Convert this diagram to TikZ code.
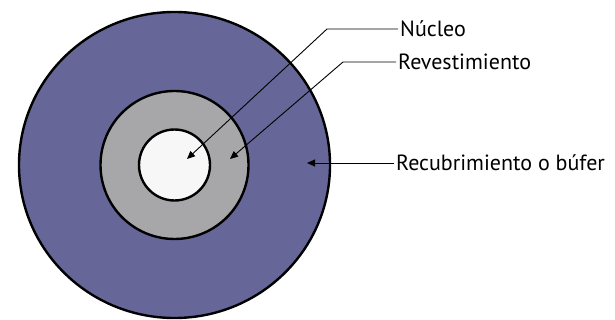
\documentclass[tikz,border=0pt]{standalone}
\usepackage{fontspec}
\setmainfont{PT Sans}
\usetikzlibrary{arrows.meta}

\definecolor{coat}{HTML}{666699}
\definecolor{clad}{HTML}{A7A7A9}
\definecolor{core}{HTML}{F7F7F7}

\begin{document}
\begin{tikzpicture}[x=1pt,y=-1pt,
  ring/.style={draw=black,line width=2.4pt},
  pointer/.style={line width=0.9pt,-{Triangle[length=8pt,width=7pt]}},
  tag/.style={anchor=west,inner sep=2pt,font=\fontsize{22}{24}\selectfont}]
\useasboundingbox (0,0) rectangle (615,320);

% cross section, outside in
\coordinate (o) at (174.5,165);
\draw[ring,fill=coat] (o) ellipse [x radius=155.5,y radius=153];
\draw[ring,fill=clad] (o) circle [radius=74];
\draw[ring,fill=core] (o) circle [radius=35.5];

% labels
\node[tag] (nucleo) at (398,29) {Núcleo};
\node[tag] (revest) at (396,62) {Revestimiento};
\node[tag] (recub) at (394,163) {Recubrimiento o búfer};

% bends and tips
\coordinate (k1) at (327,29);
\coordinate (k2) at (343,62);
\coordinate (t1) at (187,159);
\coordinate (t2) at (230,159);
\coordinate (t3) at (307,163);

\draw[pointer] (nucleo.west) -- (k1) -- (t1);
\draw[pointer] (revest.west) -- (k2) -- (t2);
\draw[pointer] (recub.west) -- (t3);
\end{tikzpicture}
\end{document}
